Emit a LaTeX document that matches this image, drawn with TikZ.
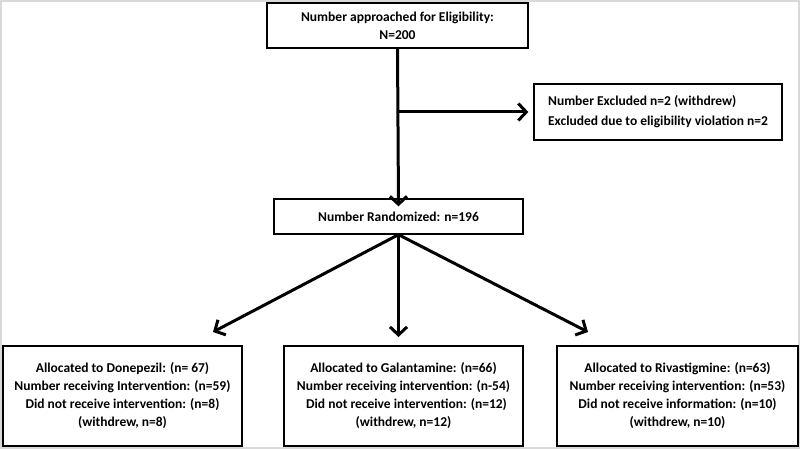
\documentclass[tikz,border=0pt]{standalone}
\usepackage{fontspec}
\setmainfont{Carlito}
\usetikzlibrary{arrows.meta}

\begin{document}
\begin{tikzpicture}[x=1pt, y=-1pt,
	box/.style = {draw, line width=1.3pt, inner sep=0pt, align=center, font=\bfseries\fontsize{13.5}{18}\selectfont},
	flow/.style = {line width=3pt, -{Straight Barb[length=8pt, width=17pt, line width=3pt]}}]

\useasboundingbox (0,0) rectangle (800,449);
\draw[gray!30, line width=2pt] (1,1) rectangle (799,448);

\node[box, minimum width=261pt, minimum height=45pt] (approach) at (397.5,25.5) {Number approached for Eligibility:\\N=200};
\node[box, minimum width=248pt, minimum height=56pt, align=left, font=\bfseries\fontsize{13.5}{20}\selectfont] (excluded) at (658,112)
	{Number Excluded n=2 (withdrew)\\Excluded due to eligibility violation n=2};
\node[box, minimum width=249pt, minimum height=35pt] (random) at (398.5,216.5) {Number Randomized: n=196};

\node[box, minimum width=239pt, minimum height=100pt] (donepezil) at (122.5,396)
	{Allocated to Donepezil: (n= 67)\\Number receiving Intervention: (n=59)\\Did not receive intervention: (n=8)\\(withdrew, n=8)};
\node[box, minimum width=239pt, minimum height=100pt] (galantamine) at (403.5,396)
	{Allocated to Galantamine: (n=66)\\Number receiving intervention: (n-54)\\\ \ Did not receive intervention: (n=12)\\(withdrew, n=12)};
\node[box, minimum width=241pt, minimum height=100pt] (rivastigmine) at (677.5,396)
	{Allocated to Rivastigmine: (n=63)\\Number receiving intervention: (n=53)\\Did not receive information: (n=10)\\(withdrew, n=10)};

% arrow ends
\coordinate (split) at (approach.south |- 0,112);
\coordinate (toD) at (213,332);
\coordinate (toG) at (398.5,337);
\coordinate (toR) at (588,332);

\draw[flow] (approach.south) -- ([yshift=-8pt]random.north);
\draw[flow] (split) -- ([xshift=-5pt]excluded.west |- split);
\foreach \t in {toD,toG,toR}{
	\draw[flow] (random.south) -- (\t);
}
\end{tikzpicture}
\end{document}
